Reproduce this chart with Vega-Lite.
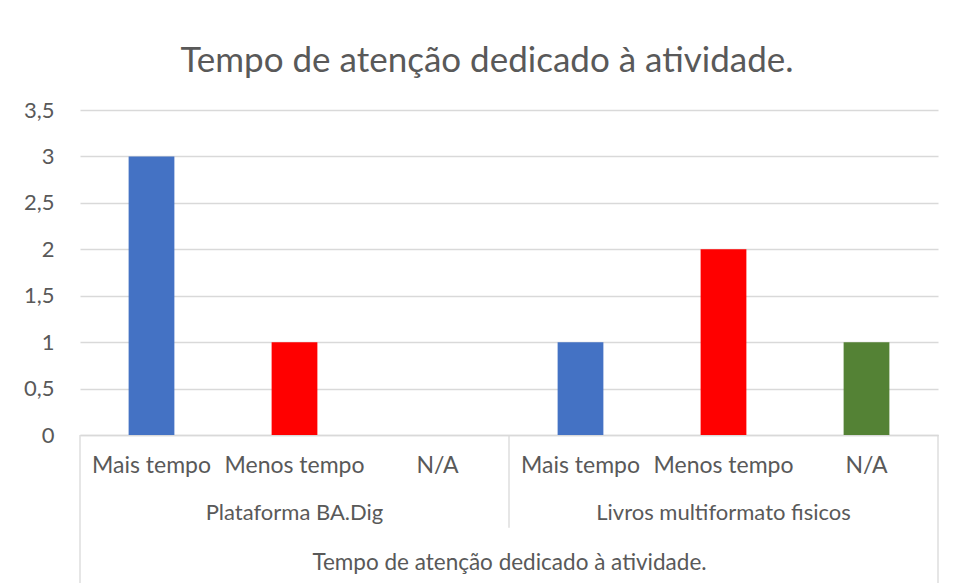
{
  "$schema": "https://vega.github.io/schema/vega-lite/v6.json",
  "width": 858,
  "height": 325,
  "autosize": {"type": "none"},
  "padding": {"left": 80, "top": 110, "right": 18, "bottom": 148},
  "background": "white",
  "title": {
    "text": "Tempo de atenção dedicado à atividade.",
    "font": "Lato",
    "fontSize": 35,
    "fontWeight": "normal",
    "color": "#595959",
    "anchor": "middle",
    "offset": 20,
    "dx": -22
  },
  "config": {
    "view": {"stroke": null},
    "font": "Lato"
  },
  "datasets": {
    "barras": [
      {"grupo": "Plataforma BA.Dig", "categoria": "Mais tempo", "chave": "1|Mais tempo", "valor": 3},
      {"grupo": "Plataforma BA.Dig", "categoria": "Menos tempo", "chave": "1|Menos tempo", "valor": 1},
      {"grupo": "Plataforma BA.Dig", "categoria": "N/A", "chave": "1|N/A", "valor": 0},
      {"grupo": "Livros multiformato fisicos", "categoria": "Mais tempo", "chave": "2|Mais tempo", "valor": 1},
      {"grupo": "Livros multiformato fisicos", "categoria": "Menos tempo", "chave": "2|Menos tempo", "valor": 2},
      {"grupo": "Livros multiformato fisicos", "categoria": "N/A", "chave": "2|N/A", "valor": 1}
    ],
    "grupos": [
      {"grupo": "Plataforma BA.Dig", "chave": "1|Menos tempo"},
      {"grupo": "Livros multiformato fisicos", "chave": "2|Menos tempo"}
    ],
    "separadores": [
      {"chave": "1|Mais tempo", "lado": "inicio", "nivel": "total"},
      {"chave": "2|Mais tempo", "lado": "inicio", "nivel": "grupo"},
      {"chave": "2|N/A", "lado": "fim", "nivel": "total"}
    ]
  },
  "layer": [
    {
      "data": {"name": "barras"},
      "mark": {"type": "bar", "width": {"band": 0.32}},
      "encoding": {
        "x": {
          "field": "chave",
          "type": "nominal",
          "sort": null,
          "scale": {"paddingInner": 0, "paddingOuter": 0},
          "axis": {
            "labelExpr": "split(datum.value, '|')[1]",
            "labelAngle": 0,
            "labelFont": "Lato",
            "labelFontSize": 23,
            "labelColor": "#595959",
            "labelPadding": 19,
            "ticks": false,
            "domainColor": "#D9D9D9",
            "domainWidth": 1.3,
            "title": "Tempo de atenção dedicado à atividade.",
            "titleFont": "Lato",
            "titleFontSize": 22.5,
            "titleFontWeight": "normal",
            "titleColor": "#595959",
            "titlePadding": 74
          }
        },
        "y": {
          "field": "valor",
          "type": "quantitative",
          "scale": {"domain": [0, 3.5], "nice": false},
          "axis": {
            "values": [0, 0.5, 1, 1.5, 2, 2.5, 3, 3.5],
            "labelExpr": "replace(toString(datum.value), '.', ',')",
            "labelFont": "Lato",
            "labelFontSize": 22,
            "labelColor": "#595959",
            "labelPadding": 26,
            "ticks": false,
            "domain": false,
            "gridColor": "#D9D9D9",
            "gridWidth": 1.3,
            "title": null
          }
        },
        "color": {
          "field": "chave",
          "type": "nominal",
          "legend": null,
          "scale": {
            "domain": ["1|Mais tempo", "1|Menos tempo", "1|N/A", "2|Mais tempo", "2|Menos tempo", "2|N/A"],
            "range": ["#4472C4", "#FF0000", "#548235", "#4472C4", "#FF0000", "#548235"]
          }
        }
      }
    },
    {
      "data": {"name": "grupos"},
      "mark": {"type": "text", "font": "Lato", "fontSize": 22, "color": "#595959", "baseline": "middle"},
      "encoding": {
        "x": {"field": "chave", "type": "nominal", "sort": null},
        "y": {"datum": -0.84, "type": "quantitative"},
        "text": {"field": "grupo"}
      }
    },
    {
      "data": {"name": "separadores"},
      "transform": [{"filter": "datum.lado == 'inicio' && datum.nivel == 'total'"}],
      "mark": {"type": "rule", "color": "#D9D9D9", "strokeWidth": 1.3},
      "encoding": {
        "x": {"field": "chave", "type": "nominal", "sort": null, "bandPosition": 0},
        "y": {"datum": 0, "type": "quantitative"},
        "y2": {"datum": -1.7}
      }
    },
    {
      "data": {"name": "separadores"},
      "transform": [{"filter": "datum.lado == 'inicio' && datum.nivel == 'grupo'"}],
      "mark": {"type": "rule", "color": "#D9D9D9", "strokeWidth": 1.3},
      "encoding": {
        "x": {"field": "chave", "type": "nominal", "sort": null, "bandPosition": 0},
        "y": {"datum": 0, "type": "quantitative"},
        "y2": {"datum": -1.0}
      }
    },
    {
      "data": {"name": "separadores"},
      "transform": [{"filter": "datum.lado == 'fim'"}],
      "mark": {"type": "rule", "color": "#D9D9D9", "strokeWidth": 1.3},
      "encoding": {
        "x": {"field": "chave", "type": "nominal", "sort": null, "bandPosition": 1},
        "y": {"datum": 0, "type": "quantitative"},
        "y2": {"datum": -1.7}
      }
    }
  ]
}
